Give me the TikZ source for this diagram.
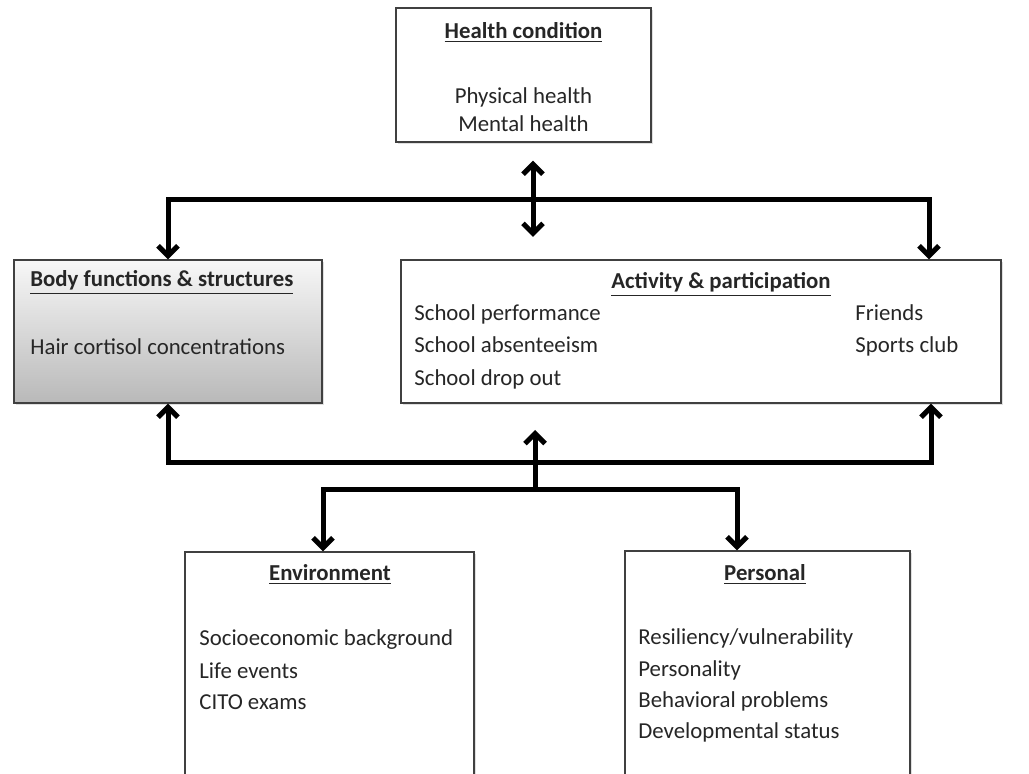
\documentclass[tikz,border=0pt]{standalone}
\usepackage{tikz}
\usepackage{xcolor}
\usepackage{fontspec}
\setmainfont{Carlito}
\usetikzlibrary{arrows.meta, shadows}

\begin{document}
\begin{tikzpicture}[x = 0.5pt, y = -0.5pt,
						box/.style = {draw = black!75, line width = 0.7pt, fill = white,
							drop shadow = {shadow xshift = 1pt, shadow yshift = -1pt, opacity = 0.25},
							inner sep = 0pt},
						txt/.style = {inner sep = 0pt, text = black!85, font = \fontsize{11.4}{13}\selectfont,
							text height = 1.6ex, text depth = 0.4ex},
						conn/.style = {line width = 2.5pt, line cap = rect,
							arrows = {Straight Barb[length = 5pt, width = 10pt]-Straight Barb[length = 5pt, width = 10pt]}},
						uparrow/.style = {line width = 2.5pt, -{Straight Barb[length = 5pt, width = 10pt]}},
						]
	
		% Page size and clipping of the bottom boxes
		\useasboundingbox (0, 0) rectangle (1029, 774);
		\clip (0, 0) rectangle (1029, 774);
		
		% Boxes
		\node[box, minimum width = 127.5pt, minimum height = 67pt] (health) at (523.5, 75) {};
		\node[box, minimum width = 154pt, minimum height = 71.5pt, top color = gray!6, bottom color = gray!55] (body) at (168, 331.5) {};
		\node[box, minimum width = 300pt, minimum height = 71.5pt] (act) at (701, 331.5) {};
		\node[box, minimum width = 144.5pt, minimum height = 124pt] (env) at (329.5, 676) {};
		\node[box, minimum width = 142.5pt, minimum height = 124.5pt] (pers) at (767.5, 675.5) {};
		
		% Health condition
		\node[txt] (healthTitle) at (523.5, 33) {\underline{\textbf{Health condition}}};
		\node[txt] (physical) at (523.5, 98) {Physical health};
		\node[txt] (mental) at (523.5, 126) {Mental health};
		
		% Body functions
		\node[txt, anchor = west] (bodyTitle) at (30, 281) {\underline{\textbf{Body functions \& structures}}};
		\node[txt, anchor = west] (cortisol) at (30, 349) {Hair cortisol concentrations};
		
		% Activity and participation
		\node[txt] (actTitle) at (721, 283) {\underline{\textbf{Activity \& participation}}};
		\node[txt, anchor = west] (performance) at (414, 315) {School performance};
		\node[txt, anchor = west] (absenteeism) at (414, 347) {School absenteeism};
		\node[txt, anchor = west] (dropout) at (414, 380) {School drop out};
		\node[txt, anchor = west] (friends) at (855, 315) {Friends};
		\node[txt, anchor = west] (sports) at (855, 347) {Sports club};
		
		% Environment
		\node[txt] (envTitle) at (330, 575) {\underline{\textbf{Environment}}};
		\node[txt, anchor = west] (socio) at (199, 640) {Socioeconomic background};
		\node[txt, anchor = west] (life) at (199, 673) {Life events};
		\node[txt, anchor = west] (cito) at (199, 704) {CITO exams};
		
		% Personal
		\node[txt] (persTitle) at (765, 575) {\underline{\textbf{Personal}}};
		\node[txt, anchor = west] (resiliency) at (638, 639) {Resiliency/vulnerability};
		\node[txt, anchor = west] (personality) at (638, 671) {Personality};
		\node[txt, anchor = west] (behavioral) at (638, 702) {Behavioral problems};
		\node[txt, anchor = west] (developmental) at (638, 733) {Developmental status};
		
		% Junction points
		\coordinate (hcTip) at (533, 237);
		\coordinate (topBar) at (929, 200);
		\coordinate (botBar) at (931, 463);
		\coordinate (mid) at (535, 490);
		\coordinate (midTip) at (535, 430);
		\coordinate (lowL) at (323, 490);
		\coordinate (lowR) at (737, 490);
		
		% Connectors
		\draw[conn] ([yshift = -9pt]hcTip |- health.south) -- (hcTip);
		\draw[conn] (body.north) |- (topBar) -- (topBar |- act.north);
		\draw[conn] (body.south) |- (botBar) -- (botBar |- act.south);
		\draw[uparrow] (mid |- botBar) -- (midTip);
		\draw[line width = 2.5pt] (mid |- botBar) -- (mid);
		\draw[conn] (lowL |- env.north) -- (lowL) -- (lowR) -- (lowR |- pers.north);
		
	\end{tikzpicture}
\end{document}
